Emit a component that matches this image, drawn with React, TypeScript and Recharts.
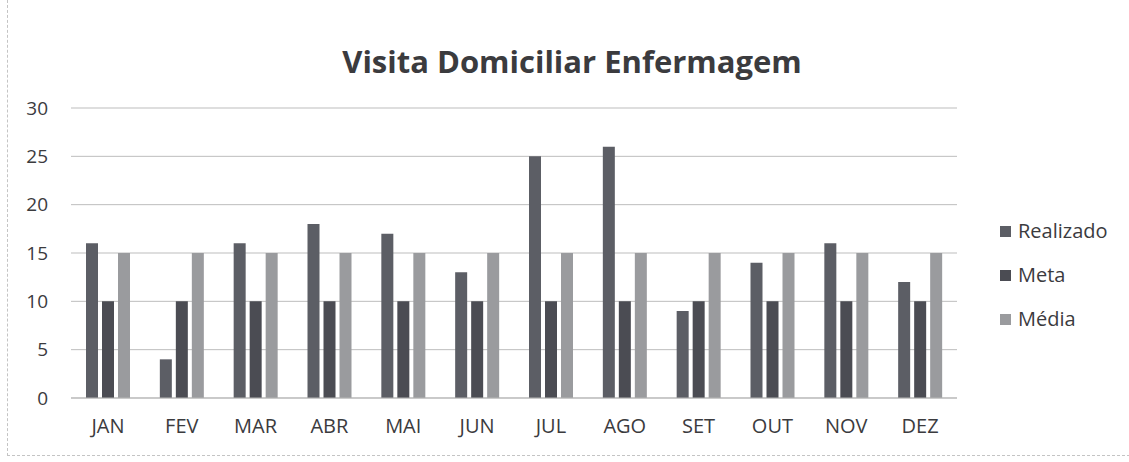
import React from "react";
import { BarChart, Bar, XAxis, YAxis, CartesianGrid } from "recharts";

const months = ["JAN", "FEV", "MAR", "ABR", "MAI", "JUN", "JUL", "AGO", "SET", "OUT", "NOV", "DEZ"];
const realizado = [16, 4, 16, 18, 17, 13, 25, 26, 9, 14, 16, 12];
const meta = [10, 10, 10, 10, 10, 10, 10, 10, 10, 10, 10, 10];
const media = [15, 15, 15, 15, 15, 15, 15, 15, 15, 15, 15, 15];
const yTicks = [0, 5, 10, 15, 20, 25, 30];

const title = "Visita Domiciliar Enfermagem";
const seriesNames = ["Realizado", "Meta", "Média"];
const seriesColors = ["#5c5e65", "#4b4c53", "#9a9b9e"];

const data = months.map((m, i) => ({
  month: m,
  Realizado: realizado[i],
  Meta: meta[i],
  "Média": media[i],
}));

const FONT = "'Open Sans', 'DejaVu Sans', sans-serif";
const TEXT = "#3b3b3e";

export default function App() {
  return (
    <div style={{ position: "absolute", left: 0, top: 0, width: 1129, height: 462, background: "#fff", overflow: "hidden" }}>
      <div style={{ position: "absolute", left: 7, top: 0, width: 1122, height: 455, borderLeft: "1px dashed #c4c4c4", borderBottom: "1px dashed #c4c4c4" }} />
      <div
        style={{
          position: "absolute",
          left: 0,
          top: 46,
          width: 1144,
          textAlign: "center",
          fontFamily: FONT,
          fontWeight: 700,
          fontSize: 31,
          lineHeight: "31px",
          color: TEXT,
          whiteSpace: "nowrap",
        }}
      >
        {title}
      </div>
      <div style={{ position: "absolute", left: 0, top: 0 }}>
        <BarChart
          width={1129}
          height={462}
          data={data}
          margin={{ top: 108, right: 172, bottom: 24, left: 0 }}
          barCategoryGap={15}
          barGap={4}
        >
          <CartesianGrid vertical={false} stroke="#bdbdbd" strokeWidth={1} />
          <XAxis
            dataKey="month"
            axisLine={{ stroke: "#b5b5b5" }}
            tickLine={false}
            tickSize={0}
            tickMargin={21}
            height={40}
            interval={0}
            tick={{ fontFamily: FONT, fontSize: 20, fill: TEXT }}
          />
          <YAxis
            domain={[0, 30]}
            ticks={yTicks}
            interval={0}
            axisLine={false}
            tickLine={false}
            tickSize={0}
            tickMargin={23}
            width={71}
            tick={{ fontFamily: FONT, fontSize: 19, fill: TEXT }}
          />
          {seriesNames.map((n, i) => (
            <Bar key={n} dataKey={n} fill={seriesColors[i]} isAnimationActive={false} />
          ))}
        </BarChart>
      </div>
      <div style={{ position: "absolute", left: 1000, top: 209, fontFamily: FONT, color: TEXT }}>
        {seriesNames.map((n, i) => (
          <div key={n} style={{ display: "flex", alignItems: "center", height: 44 }}>
            <span style={{ display: "inline-block", width: 11, height: 11, background: seriesColors[i], marginRight: 7 }} />
            <span style={{ fontSize: 20, lineHeight: "20px" }}>{n}</span>
          </div>
        ))}
      </div>
    </div>
  );
}
